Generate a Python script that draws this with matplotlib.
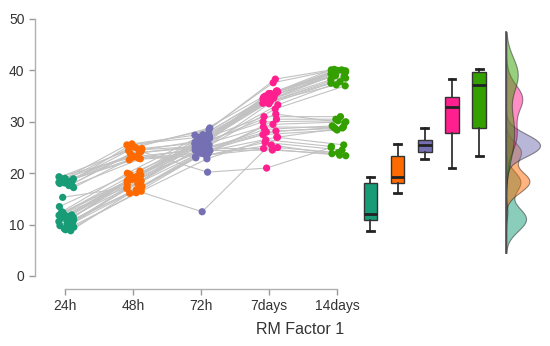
import numpy as np
import matplotlib
matplotlib.use("Agg")
import matplotlib.pyplot as plt

plt.rcParams['font.family'] = ['Liberation Sans', 'DejaVu Sans']

# time points and colours
labels = ['24h', '48h', '72h', '7days', '14days']
colors = ['#179c77', '#ff6a00', '#7570b3', '#ff1f8e', '#33a000']

# one value per subject and time point (subjects 0-15 start high, 16-39 start low)
t24 = [18.5, 17.8, 18.2, 17.5, 19.0, 18.8, 17.2, 18.0, 17.6, 18.4, 19.2, 18.9, 15.3, 18.1, 18.6, 19.3,
       11.5, 10.8, 12.2, 9.5, 11.2, 10.2, 8.8, 11.8, 10.5, 9.2, 12.3, 11.4, 13.5, 10.0, 11.6, 9.8,
       10.9, 12.5, 9.0, 11.3, 10.6, 11.9, 11.7, 12.0]
t48 = [24.5, 23.8, 25.2, 22.8, 25.5, 24.0, 23.2, 22.6, 24.8, 24.4, 25.0, 22.9, 17.2, 24.2, 25.7, 23.0,
       18.5, 17.8, 19.5, 16.2, 18.6, 17.5, 16.1, 19.0, 18.9, 17.0, 20.4, 19.2, 19.8, 17.3, 18.7, 16.8,
       18.0, 20.0, 16.5, 19.1, 18.8, 19.6, 18.45, 18.2]
t72 = [26.5, 25.0, 28.5, 24.0, 27.0, 25.5, 24.5, 23.5, 26.0, 25.2, 28.8, 24.8, 12.5, 20.2, 27.4, 23.8,
       25.0, 24.2, 26.8, 23.0, 25.5, 24.6, 23.2, 27.2, 25.8, 24.0, 27.8, 26.0, 26.4, 23.8, 25.3, 24.4,
       26.2, 27.5, 22.8, 25.7, 24.9, 26.6, 25.6, 26.9]
t7d = [35.0, 34.0, 38.3, 27.5, 36.0, 33.5, 28.0, 25.0, 34.8, 29.5, 37.6, 24.8, 27.0, 21.0, 35.5, 30.5,
       34.5, 32.5, 35.5, 26.0, 33.3, 28.5, 25.5, 35.2, 30.0, 27.0, 34.2, 33.8, 36.0, 29.0, 34.6, 24.5,
       31.0, 35.8, 26.5, 34.9, 28.2, 33.6, 31.5, 34.3]
t14d = [39.8, 38.5, 40.2, 28.4, 39.9, 37.5, 29.0, 24.0, 39.7, 30.0, 40.0, 23.5, 28.8, 25.0, 39.6, 30.5,
        39.0, 37.0, 40.1, 24.5, 37.8, 29.2, 23.4, 39.7, 30.2, 25.5, 38.2, 38.8, 40.0, 28.9, 39.9, 23.8,
        31.0, 40.1, 25.2, 39.65, 28.7, 37.2, 29.8, 39.3]

data = np.array([t24, t48, t72, t7d, t14d])
n_tp, n_sub = data.shape

fig = plt.figure(figsize=(5.5, 3.46), dpi=100)
ax = fig.add_axes([35 / 550, 1 - 289 / 346, 515 / 550, (289 - 10) / 346])
ax.set_xlim(-0.441, 7.132)
ax.set_ylim(-2.53, 51.75)

# deterministic jitter
idx = np.arange(n_sub)
xs = np.array([k + 0.02 + 0.11 * np.sin(idx * 2.399 + k * 1.3) for k in range(n_tp)])

for i in range(n_sub):
    ax.plot(xs[:, i], data[:, i], color='#c2c2c2', lw=0.8, zorder=1)
for k in range(n_tp):
    ax.scatter(xs[k], data[k], s=27, color=colors[k], edgecolors='none', zorder=3)

# box plots
box_pos = 4.49 + 0.4 * np.arange(n_tp)
bp = ax.boxplot(data.T, positions=box_pos, widths=0.2, showfliers=False, patch_artist=True,
                manage_ticks=False,
                medianprops=dict(color='#222222', lw=2),
                whiskerprops=dict(color='#333333', lw=1.3),
                capprops=dict(color='#222222', lw=2),
                boxprops=dict(edgecolor='#333333', lw=1))
for patch, c in zip(bp['boxes'], colors):
    patch.set_facecolor(c)
for cap in bp['caps']:
    x0, x1 = cap.get_xdata()
    m = (x0 + x1) / 2
    cap.set_xdata([m - 0.05, m + 0.05])

# densities
def kde(values, grid):
    v = np.asarray(values)
    bw = 1.06 * v.std(ddof=1) * len(v) ** (-1 / 5)
    z = (grid[:, None] - v[None, :]) / bw
    return np.exp(-0.5 * z ** 2).sum(axis=1) / (len(v) * bw * np.sqrt(2 * np.pi))

base = 6.485
grid = np.linspace(4.5, 47.5, 400)
dens = [kde(row, grid) for row in data]
scale = 0.5 / max(d.max() for d in dens)
for d, c in zip(dens, colors):
    ax.fill_betweenx(grid, base, base + d * scale, facecolor=c, alpha=0.5,
                     edgecolor='#222222', lw=0.8, zorder=2)
ax.plot([base, base], [grid[0], grid[-1]], color='#555555', lw=1.2, zorder=4)

# axes styling
for s in ['top', 'right']:
    ax.spines[s].set_visible(False)
ax.spines['left'].set_bounds(0, 50)
ax.spines['bottom'].set_bounds(0, 4)
for s in ['left', 'bottom']:
    ax.spines[s].set_color('#b0b0b0')
    ax.spines[s].set_linewidth(1)
ax.set_yticks(range(0, 51, 10))
ax.set_xticks(range(n_tp))
ax.set_xticklabels(labels)
ax.tick_params(axis='both', colors='#999999', labelcolor='#333333', labelsize=10,
               length=4.5, width=1, pad=3)

fig.text(300 / 550, 1 - 329 / 346, 'RM Factor 1', ha='center', va='center',
         fontsize=11.5, color='#333333')

fig.savefig('out.png', dpi=100)
